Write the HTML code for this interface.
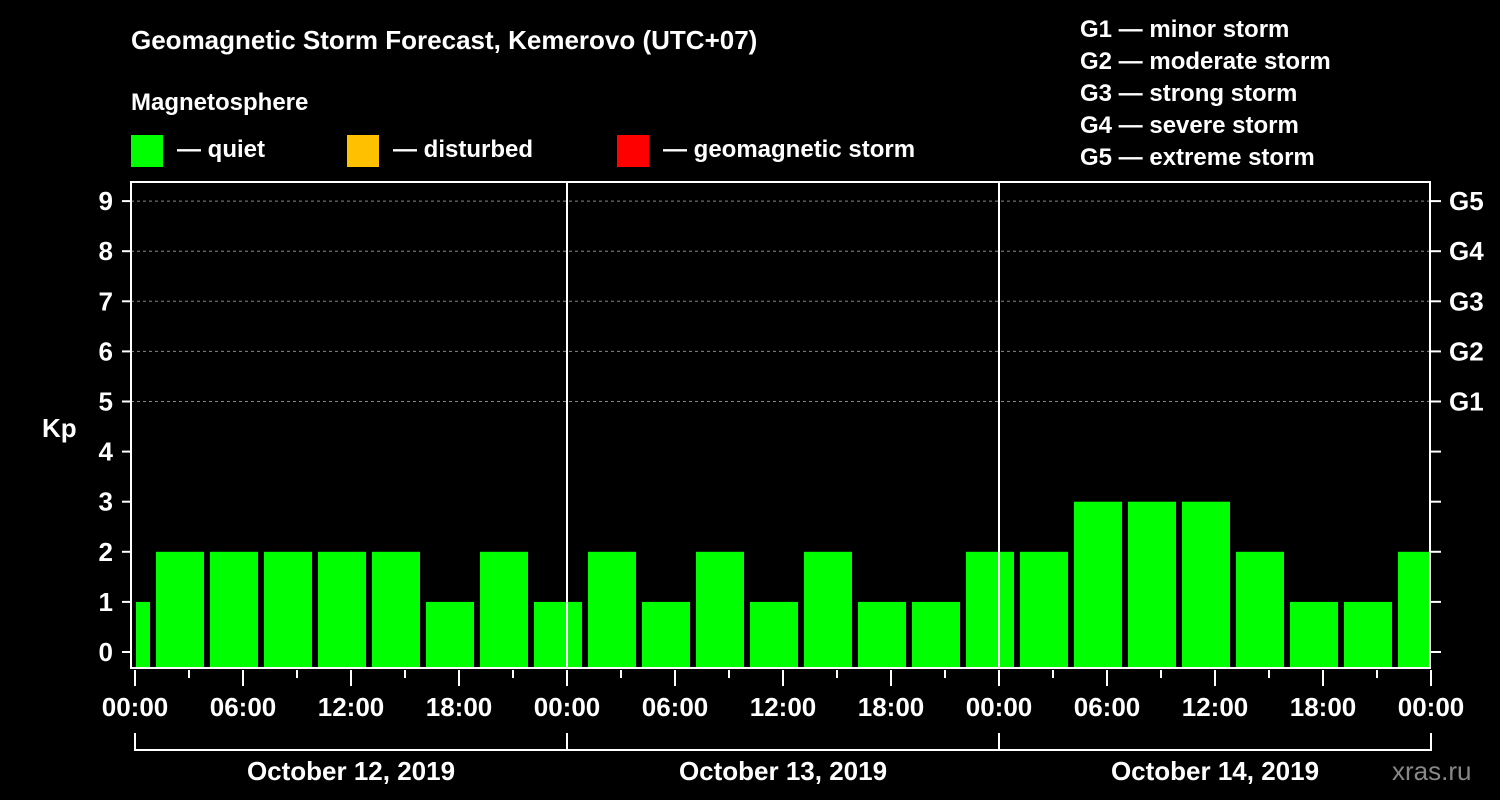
<!DOCTYPE html>
<html><head><meta charset="utf-8"><style>
body{margin:0;background:#000;}
svg{display:block;font-family:"Liberation Sans",Arial,sans-serif;font-weight:bold;}
</style></head><body>
<svg id="chart" width="1500" height="800" viewBox="0 0 1500 800">
<rect width="1500" height="800" fill="#000"/>
<text x="131" y="49" fill="#fff" font-size="26">Geomagnetic Storm Forecast, Kemerovo (UTC+07)</text>
<text x="131" y="110" fill="#fff" font-size="24">Magnetosphere</text>
<g><rect x="131" y="135" width="32" height="32" fill="#00ff00"/><text x="177" y="157" fill="#fff" font-size="24">— quiet</text></g>
<g><rect x="347" y="135" width="32" height="32" fill="#ffc000"/><text x="393" y="157" fill="#fff" font-size="24">— disturbed</text></g>
<g><rect x="617" y="135" width="32" height="32" fill="#ff0000"/><text x="663" y="157" fill="#fff" font-size="24">— geomagnetic storm</text></g>
<g fill="#fff" font-size="24">
<text x="1080" y="37">G1 — minor storm</text>
<text x="1080" y="69">G2 — moderate storm</text>
<text x="1080" y="101">G3 — strong storm</text>
<text x="1080" y="133">G4 — severe storm</text>
<text x="1080" y="165">G5 — extreme storm</text>
</g>
<g id="grid"></g><g id="bars"></g><g id="axes"></g>
<text x="42" y="437" fill="#fff" font-size="26">Kp</text>
<text x="1392" y="780" fill="#888" font-size="26" font-weight="normal">xras.ru</text>
</svg>
<script>
const kpValues=[1,2,2,2,2,2,1,2,1,2,1,2,1,2,1,1,2,2,3,3,3,2,1,1,2];
const yTicks=[0,1,2,3,4,5,6,7,8,9];
const gLabels=["","","","","","G1","G2","G3","G4","G5"];
const timeLabels=["00:00","06:00","12:00","18:00","00:00","06:00","12:00","18:00","00:00","06:00","12:00","18:00","00:00"];
const dayLabels=["October 12, 2019","October 13, 2019","October 14, 2019"];
const NS="http://www.w3.org/2000/svg";
const X0=135,PXH=18,LEFT=131,RIGHT=1430,TOP=182,BOT=668;
const xh=h=>X0+h*PXH;
const yk=v=>652-v*50.1;
function mk(p,t,a){const e=document.createElementNS(NS,t);for(const k in a)e.setAttribute(k,a[k]);p.appendChild(e);return e;}
const grid=document.getElementById('grid'),bars=document.getElementById('bars'),axes=document.getElementById('axes');
yTicks.forEach((v,i)=>{
 if(v>=5){const l=mk(grid,'line',{x1:LEFT,x2:RIGHT,y1:yk(v),y2:yk(v),stroke:'#888','stroke-dasharray':'3,3','stroke-width':1});
 
 }
 const t=mk(axes,'line',{x1:LEFT-9,x2:LEFT,y1:yk(v),y2:yk(v),stroke:'#fff','stroke-width':2});
 
 
 const t2=mk(axes,'line',{x1:RIGHT,x2:RIGHT+11,y1:yk(v),y2:yk(v),stroke:'#fff','stroke-width':2});
 
 
 const tx=mk(axes,'text',{x:LEFT-18,y:yk(v)+9,fill:'#fff','font-size':26,'text-anchor':'end'});tx.textContent=v;
 
 
 if(gLabels[i]){const g=mk(axes,'text',{x:1449,y:yk(v)+9,fill:'#fff','font-size':26});g.textContent=gLabels[i];
 
 }
});
kpValues.forEach((v,i)=>{
 let s=xh(-2+3*i)+3,e=xh(1+3*i)-3;
 s=Math.max(s,X0+1);e=Math.min(e,RIGHT);
 const c=v>=5?'#ff0000':(v>=4?'#ffc000':'#00ff00');
 const r=mk(bars,'rect',{x:s,y:yk(v),width:e-s,height:BOT-yk(v),fill:c});
 
 
});
[1,2].forEach(d=>{const l=mk(axes,'line',{x1:xh(24*d),x2:xh(24*d),y1:TOP,y2:BOT,stroke:'#fff','stroke-width':2});
 
 });
const fr=mk(axes,'rect',{x:LEFT,y:TOP,width:RIGHT-LEFT,height:BOT-TOP,fill:'none',stroke:'#fff','stroke-width':2});


for(let h=0;h<=72;h+=3){const major=h%6===0;
 const t=mk(axes,'line',{x1:xh(h),x2:xh(h),y1:BOT+2,y2:BOT+(major?18:10),stroke:'#fff','stroke-width':2});
 
 }
timeLabels.forEach((s,i)=>{const t=mk(axes,'text',{x:xh(6*i),y:716,fill:'#fff','font-size':26,'text-anchor':'middle'});t.textContent=s;
 
 });
dayLabels.forEach((s,d)=>{
 const p=mk(axes,'path',{d:`M${xh(24*d)} 733V750H${xh(24*d+24)}`+(d===2?'V733':''),stroke:'#fff','stroke-width':2,fill:'none'});
 
 
 const t=mk(axes,'text',{x:xh(24*d+12),y:780,fill:'#fff','font-size':26,'text-anchor':'middle'});t.textContent=s;
 
 });
</script>
</body></html>
